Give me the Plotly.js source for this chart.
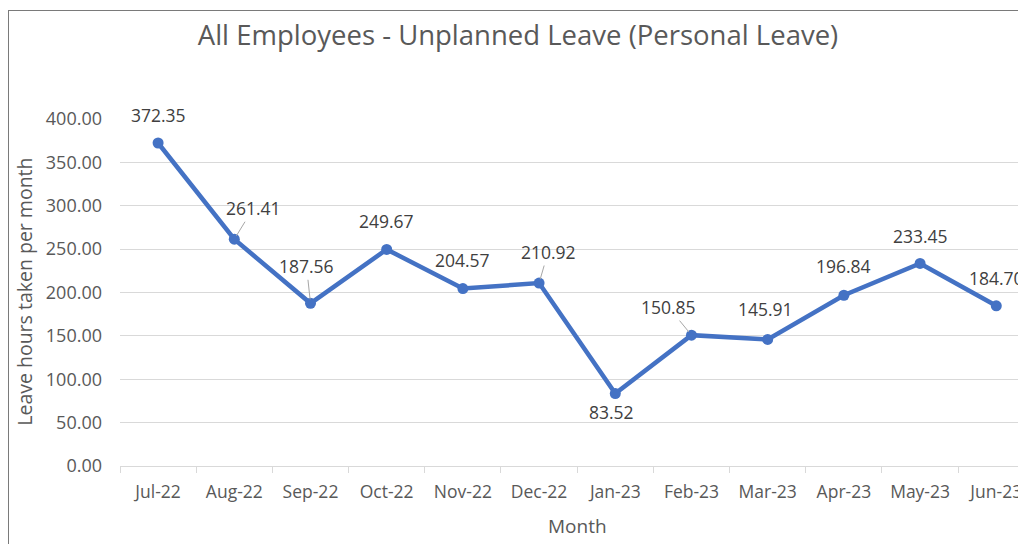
<!DOCTYPE html>
<html>
<head>
<meta charset="utf-8">
<script src="https://cdn.plot.ly/plotly-3.0.1.min.js"></script>
<style>
  html, body { margin: 0; padding: 0; background: #ffffff; overflow: hidden; }
  #frame { position: absolute; left: 8px; top: 10px; width: 1100px; height: 700px; border: 1px solid #7a7a7a; }
  #chart { position: absolute; left: 0; top: 0; width: 1018px; height: 544px; }
</style>
</head>
<body>
<div id="frame"></div>
<div id="chart"></div>
<script>
// ---- data ----
const months = ["Jul-22", "Aug-22", "Sep-22", "Oct-22", "Nov-22", "Dec-22",
                "Jan-23", "Feb-23", "Mar-23", "Apr-23", "May-23", "Jun-23"];
const leaveHours = [372.35, 261.41, 187.56, 249.67, 204.57, 210.92,
                    83.52, 150.85, 145.91, 196.84, 233.45, 184.70];
const yTicks = [0, 50, 100, 150, 200, 250, 300, 350, 400];

// ---- label placement (style only, pixel offsets) ----
const labelDx = [0, 19, -4, 0, 0, 9, -4, -23, -2, 0, 0, 0];
const labelDy = [-28, -31, -37, -28, -29, -31, 18, -28, -30, -29, -27, -28];
const leader  = [false, true, true, false, false, true, false, true, false, false, false, false];

const fontFam = '"Open Sans", "Liberation Sans", sans-serif';

const trace = {
  type: 'scatter',
  mode: 'lines+markers',
  x: months,
  y: leaveHours,
  line: { color: '#4472C4', width: 4.5 },
  marker: { color: '#4472C4', size: 11 },
  cliponaxis: false,
  hoverinfo: 'skip'
};

const annotations = months.map((m, i) => ({
  x: m, y: leaveHours[i], xref: 'x', yref: 'y',
  text: leaveHours[i].toFixed(2),
  showarrow: true,
  ax: labelDx[i], ay: labelDy[i],
  arrowhead: 0, arrowwidth: 1, standoff: 4,
  arrowcolor: leader[i] ? '#a6a6a6' : 'rgba(0,0,0,0)',
  font: { family: fontFam, size: 17.5, color: '#404040' }
}));

annotations.push({
  text: 'Leave hours taken per month',
  xref: 'paper', yref: 'paper',
  x: (25 - 120) / 898, y: (466.5 - 292) / 347.5,
  showarrow: false, textangle: -90,
  xanchor: 'center', yanchor: 'middle',
  font: { family: fontFam, size: 19.5, color: '#595959' }
});
annotations.push({
  text: 'Month',
  xref: 'x', yref: 'paper',
  x: 5.5, y: (466.5 - 527) / 347.5,
  showarrow: false,
  xanchor: 'center', yanchor: 'middle',
  font: { family: fontFam, size: 19, color: '#595959' }
});

const layout = {
  width: 1018, height: 544,
  margin: { l: 120, r: 0, t: 119, b: 77.5 },
  paper_bgcolor: 'rgba(0,0,0,0)',
  plot_bgcolor: 'rgba(0,0,0,0)',
  showlegend: false,
  title: {
    text: 'All Employees - Unplanned Leave (Personal Leave)',
    xref: 'container', yref: 'container',
    x: 518 / 1018, y: 1 - 35 / 544,
    xanchor: 'center', yanchor: 'middle',
    font: { family: fontFam, size: 27.5, color: '#595959' }
  },
  xaxis: {
    type: 'category',
    range: [-0.5, 11.285],
    showline: true, linecolor: '#d9d9d9', linewidth: 1,
    ticks: 'outside', tickson: 'boundaries', ticklen: 6, tickcolor: '#d9d9d9',
    showgrid: false, zeroline: false,
    ticklabelstandoff: 10,
    tickfont: { family: fontFam, size: 17.5, color: '#595959' }
  },
  yaxis: {
    range: [0, 400],
    tickvals: yTicks,
    ticktext: yTicks.map(v => v.toFixed(2)),
    showgrid: true, gridcolor: '#d9d9d9', gridwidth: 1,
    zeroline: false, showline: false, ticks: '',
    ticklabelstandoff: 17,
    tickfont: { family: fontFam, size: 18, color: '#595959' }
  },
  annotations: annotations
};

Plotly.newPlot('chart', [trace], layout, { displayModeBar: false, staticPlot: true });
</script>
</body>
</html>
